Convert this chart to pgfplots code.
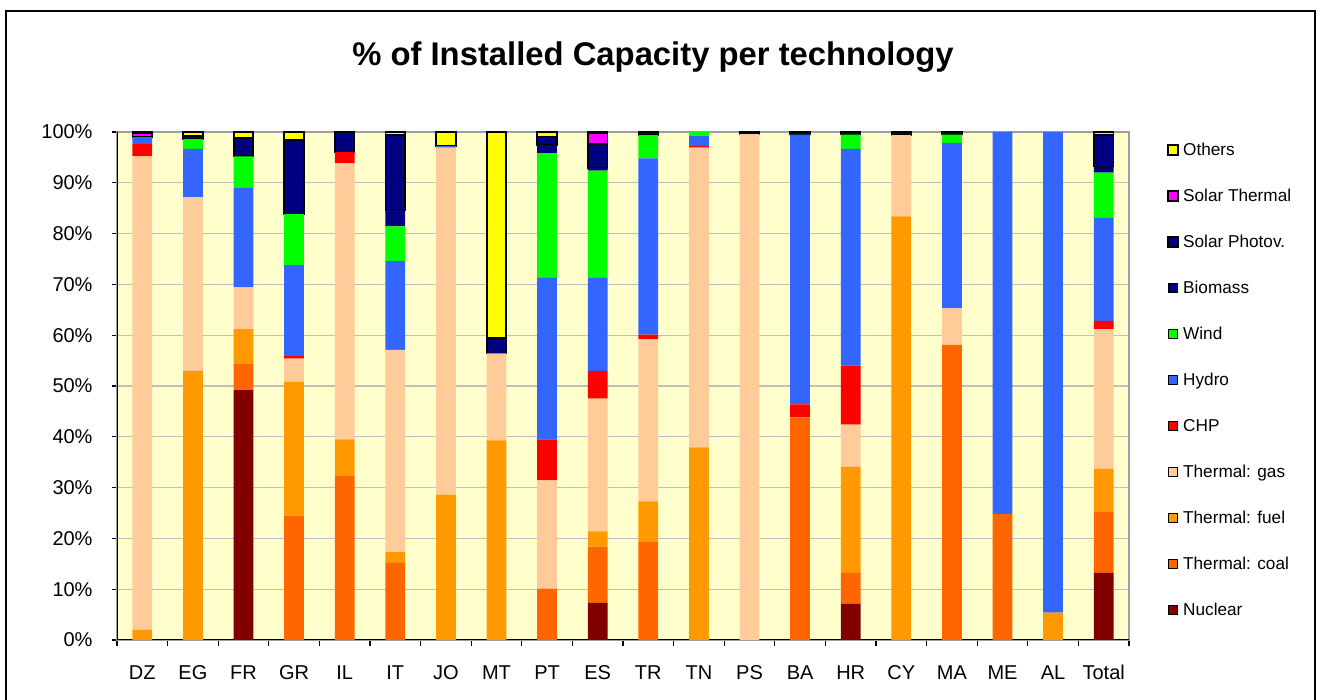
\documentclass[border=0pt]{standalone}
\usepackage{fontspec}
\setmainfont{Liberation Sans}
\usepackage{pgfplots}
\usepackage{pgfplotstable}
\pgfplotsset{compat=1.18}

\definecolor{cnuc}{HTML}{800000}
\definecolor{ccoal}{HTML}{FF6600}
\definecolor{cfuel}{HTML}{FF9900}
\definecolor{cgas}{HTML}{FFCC99}
\definecolor{cchp}{HTML}{FF0000}
\definecolor{chydro}{HTML}{3366FF}
\definecolor{cwind}{HTML}{00FF00}
\definecolor{cbio}{HTML}{000080}
\definecolor{cst}{HTML}{FF00FF}
\definecolor{coth}{HTML}{FFFF00}
\definecolor{bgyel}{HTML}{FFFFCC}

% share of installed capacity (%)
\pgfplotstableread{
x  nuc  coal fuel gas  chp  hydro wind bio pv   st  oth
0  0    0    2.0  93.2 2.4  1.4   0    0   0    0.7 0.3
1  0    0    53.0 34.2 0    9.5   1.9  0   0.6  0   0.8
2  49.2 5.1  6.9  8.2  0    19.6  6.2  0   3.6  0   1.2
3  0    24.5 26.3 4.6  0.5  17.9  10.1 0   14.5 0   1.6
4  0    32.4 7.1  54.3 2.3  0     0    0   3.9  0   0
5  0    15.2 2.1  39.8 0    17.5  6.8  3.2 14.8 0   0.6
6  0    0    28.6 68.3 0    0.3   0    0   0    0   2.8
7  0    0    39.3 17.1 0    0     0    0   3.0  0   40.6
8  0    10.1 0    21.3 8.1  31.9  24.4 1.6 1.7  0   0.9
9  7.3  11.1 3.0  26.1 5.5  18.4  21.0 0.5 4.7  2.1 0.3
10 0    19.3 8.0  31.9 0.9  34.7  4.6  0   0.6  0   0
11 0    0    37.9 59.0 0.3  2.1   0.7  0   0    0   0
12 0    0    0    99.6 0    0     0    0   0.4  0   0
13 0    43.8 0    0    2.6  53.1  0    0   0.5  0   0
14 7.1  6.1  20.9 8.3  11.6 42.7  2.8  0   0.5  0   0
15 0    0    83.4 16.0 0    0     0    0   0.6  0   0
16 0    58.1 0    7.2  0    32.5  1.7  0   0.5  0   0
17 0    24.8 0    0    0    75.2  0    0   0    0   0
18 0    0    5.4  0    0    94.6  0    0   0    0   0
19 13.2 12.0 8.5  27.5 1.6  20.3  8.9  1.2 6.2  0   0.6
}\capdata

\pgfplotsset{sqleg/.style={legend image code/.code={\draw[##1] (0pt,-2.4pt) rectangle (4.8pt,2.4pt);}}}

\begin{document}
\begin{tikzpicture}[x=1pt,y=1pt]
\useasboundingbox (0,0) rectangle (661,350);
\draw[line width=1pt] (3,0) -- (3,344.5) -- (657.5,344.5) -- (657.5,0);
\node[font=\bfseries\fontsize{16.4}{19}\selectfont] at (326.5,321.5) {\% of Installed Capacity per technology};
\begin{axis}[
    at={(58.5pt,30pt)}, anchor=south west,
    scale only axis, width=506pt, height=254pt,
    ybar stacked, bar width=0.39,
    xmin=-0.5, xmax=19.5, ymin=0, ymax=100,
    xtick={0,...,19},
    xticklabels={DZ,EG,FR,GR,IL,IT,JO,MT,PT,ES,TR,TN,PS,BA,HR,CY,MA,ME,AL,Total},
    minor xtick={-0.5,0.5,...,19.5},
    ytick={0,10,...,100},
    yticklabel={\pgfmathprintnumber{\tick}\%},
    /pgf/number format/assume math mode=true,
    tick label style={font=\fontsize{10}{12}\selectfont},
    xticklabel style={yshift=-6.7pt},
    yticklabel style={xshift=-6.2pt},
    tick pos=left, tick align=outside,
    major tick length=2.5pt, minor tick length=3pt,
    tick style={black, line width=0.6pt},
    major x tick style={draw=none},
    ymajorgrids, grid style={draw=gray!50, line width=0.6pt},
    axis background/.style={fill=bgyel},
    axis line style={draw=gray!75, line width=0.8pt},
    reverse legend, legend cell align=left,
    legend style={at={(1.0375,0.5118)}, anchor=west, draw=none, fill=none,
      font=\fontsize{8.6}{10}\selectfont, inner sep=0pt, row sep=14pt,
      nodes={inner sep=0pt, text height=7pt, text depth=2pt},
      /tikz/every odd column/.append style={column sep=2.2pt}},
]
\addplot[fill=cnuc, draw=none, sqleg] table[x=x, y=nuc] {\capdata};
\addlegendentry{Nuclear}
\addplot[fill=ccoal, draw=none, sqleg] table[x=x, y=coal] {\capdata};
\addlegendentry{Thermal: coal}
\addplot[fill=cfuel, draw=none, sqleg] table[x=x, y=fuel] {\capdata};
\addlegendentry{Thermal: fuel}
\addplot[fill=cgas, draw=none, sqleg] table[x=x, y=gas] {\capdata};
\addlegendentry{Thermal: gas}
\addplot[fill=cchp, draw=none, sqleg] table[x=x, y=chp] {\capdata};
\addlegendentry{CHP}
\addplot[fill=chydro, draw=none, sqleg] table[x=x, y=hydro] {\capdata};
\addlegendentry{Hydro}
\addplot[fill=cwind, draw=none, sqleg] table[x=x, y=wind] {\capdata};
\addlegendentry{Wind}
\addplot[fill=cbio, draw=none, sqleg] table[x=x, y=bio] {\capdata};
\addlegendentry{Biomass}
\addplot[fill=cbio, draw=black, line width=0.9pt, sqleg] table[x=x, y=pv] {\capdata};
\addlegendentry{Solar Photov.}
\addplot[fill=cst, draw=black, line width=0.9pt, sqleg] table[x=x, y=st] {\capdata};
\addlegendentry{Solar Thermal}
\addplot[fill=coth, draw=black, line width=0.9pt, sqleg] table[x=x, y=oth] {\capdata};
\addlegendentry{Others}
\draw[black, line width=0.8pt] (rel axis cs:0,1) -- (rel axis cs:0,0) -- (rel axis cs:1,0);
\end{axis}
\end{tikzpicture}
\end{document}
